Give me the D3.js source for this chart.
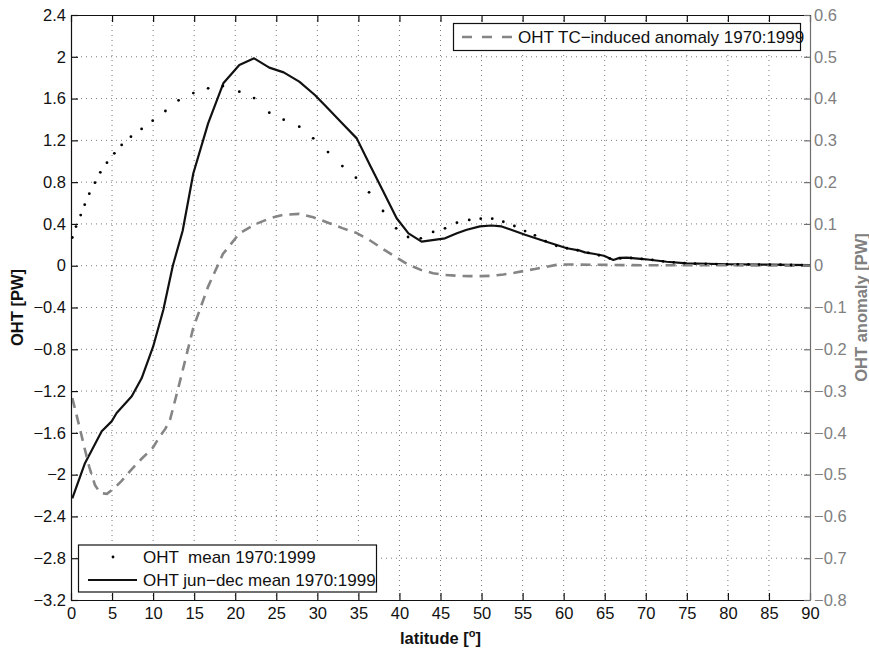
<!DOCTYPE html>
<html><head><meta charset="utf-8">
<script src="https://cdn.jsdelivr.net/npm/d3@7"></script>
<style>
body{margin:0;background:#fff;}
text{font-family:"Liberation Sans",Arial,Helvetica,sans-serif;}
</style></head>
<body>
<svg id="chart" width="869" height="649"></svg>
<script>
// ---------- DATA ----------
const xTicks = [0,5,10,15,20,25,30,35,40,45,50,55,60,65,70,75,80,85,90];
const yLeftTicks = [2.4,2,1.6,1.2,0.8,0.4,0,-0.4,-0.8,-1.2,-1.6,-2,-2.4,-2.8,-3.2];
const yRightTicks = [0.6,0.5,0.4,0.3,0.2,0.1,0,-0.1,-0.2,-0.3,-0.4,-0.5,-0.6,-0.7,-0.8];

// OHT mean 1970:1999 (dots)
const meanLat = [0.16,0.61,1.18,1.67,2.23,2.92,3.57,4.38,5.28,6.17,7.3,8.6,9.95,11.5,13.1,14.9,16.7,18.5,20.5,22.3,24.15,25.9,27.8,29.5,31.3,33.05,34.7,36.3,38.0,39.6,41.05,42.6,44.1,45.55,47.0,48.5,49.9,51.3,52.65,54.0,55.3,56.5,57.8,59.1,60.4,61.7,63.0,64.3,65.6,66.9,68.2,69.5,70.8,72.1,73.4,74.7,76.0,77.3,78.6,79.9,81.2,82.5,83.8,85.1,86.4,87.7,89.0];
const meanVal = [0.27,0.375,0.485,0.584,0.69,0.795,0.894,0.986,1.076,1.156,1.235,1.309,1.388,1.481,1.583,1.653,1.698,1.72,1.666,1.605,1.465,1.398,1.331,1.219,1.088,0.954,0.843,0.703,0.524,0.358,0.275,0.262,0.323,0.358,0.412,0.438,0.450,0.450,0.421,0.38,0.332,0.291,0.235,0.19,0.167,0.148,0.123,0.10,0.07,0.07,0.074,0.065,0.055,0.042,0.032,0.025,0.02,0.018,0.016,0.014,0.013,0.012,0.011,0.01,0.009,0.007,0.006];

// OHT jun-dec mean 1970:1999 (solid)
const jdLat = [0.16,1.7,3.74,4.95,5.56,7.4,8.6,10.0,11.24,12.4,13.6,14.9,16.7,18.55,20.5,22.3,24.15,25.9,27.8,29.7,31.3,33.05,34.8,36.4,38.0,39.66,41.1,42.7,45.55,47.0,48.2,49.8,51.2,52.45,55.3,57.9,60.4,62.0,62.6,63.8,64.9,66.05,66.8,67.7,69.7,72.55,75.0,80,85,90];
const jdVal = [-2.227,-1.89,-1.585,-1.49,-1.41,-1.25,-1.078,-0.775,-0.424,0.0,0.335,0.885,1.363,1.746,1.921,1.985,1.896,1.851,1.762,1.634,1.504,1.361,1.219,0.964,0.715,0.454,0.31,0.23,0.262,0.31,0.344,0.376,0.385,0.376,0.296,0.23,0.167,0.144,0.128,0.112,0.095,0.055,0.075,0.077,0.064,0.038,0.023,0.014,0.01,0.005];

// OHT TC-induced anomaly 1970:1999 (dashed, right axis)
const tcLat = [0.16,0.61,1.18,1.67,2.23,2.92,3.57,4.38,5.28,6.17,7.3,8.6,9.95,10.8,11.5,12.06,13.1,14.9,16.7,18.5,20.5,22.3,24.15,25.9,27.8,29.5,31.3,33.05,34.7,36.3,38.0,39.6,41.05,42.6,44.1,45.55,47.0,48.5,49.9,51.3,52.65,54.0,55.3,56.5,57.8,59.1,60.4,65,70,80,90];
const tcVal = [-0.317,-0.352,-0.398,-0.438,-0.482,-0.525,-0.544,-0.546,-0.532,-0.515,-0.489,-0.462,-0.436,-0.409,-0.39,-0.369,-0.29,-0.148,-0.05,0.028,0.077,0.098,0.113,0.122,0.124,0.116,0.103,0.09,0.079,0.062,0.04,0.02,0.003,-0.01,-0.018,-0.022,-0.024,-0.025,-0.025,-0.024,-0.021,-0.017,-0.012,-0.008,-0.003,0.002,0.003,0.002,0.001,0.001,0];

const legendTop = ["OHT TC\u2212induced anomaly 1970:1999"];
const legendBottom = ["OHT  mean 1970:1999","OHT jun\u2212dec mean 1970:1999"];

// ---------- CHART ----------
const svg = d3.select("#chart");
const L = 71, R = 810, T = 15, B = 600;
const x = d3.scaleLinear().domain([0,90]).range([L,R]);
const yL = d3.scaleLinear().domain([-3.2,2.4]).range([B,T]);
const yR = d3.scaleLinear().domain([-0.8,0.6]).range([B,T]);
const fmt = v => (v<0?"\u2212":"") + String(Math.abs(v));
const grey = "#808080";

// grid
const grid = svg.append("g").attr("stroke","#555").attr("stroke-width",0.8).attr("stroke-dasharray","1,4");
grid.selectAll("line.v").data(xTicks.slice(1,-1)).enter().append("line")
  .attr("x1",d=>x(d)).attr("x2",d=>x(d)).attr("y1",T).attr("y2",B);
grid.selectAll("line.h").data(yLeftTicks.slice(1,-1)).enter().append("line")
  .attr("x1",L).attr("x2",R).attr("y1",d=>yL(d)).attr("y2",d=>yL(d));

// series
const lineJD = d3.line().x((d,i)=>x(jdLat[i])).y(d=>yL(d));
svg.append("path").attr("d",lineJD(jdVal)).attr("fill","none").attr("stroke","#111").attr("stroke-width",2.2).attr("stroke-linejoin","round");
const lineTC = d3.line().x((d,i)=>x(tcLat[i])).y(d=>yR(d));
svg.append("path").attr("d",lineTC(tcVal)).attr("fill","none").attr("stroke","#858585").attr("stroke-width",2.6).attr("stroke-dasharray","10,7");
svg.append("g").selectAll("circle").data(meanVal).enter().append("circle")
  .attr("cx",(d,i)=>x(meanLat[i])).attr("cy",d=>yL(d)).attr("r",1.4).attr("fill","#000");

// axes
const fontSize = "16.5px";
const ax = svg.append("g").attr("transform",`translate(0,${B})`)
  .call(d3.axisBottom(x).tickValues(xTicks).tickSize(-7).tickSizeOuter(0).tickPadding(7).tickFormat(d=>String(d)));
const axT = svg.append("g").attr("transform",`translate(0,${T})`)
  .call(d3.axisTop(x).tickValues(xTicks).tickSize(-7).tickSizeOuter(0).tickFormat(""));
const ayL = svg.append("g").attr("transform",`translate(${L},0)`)
  .call(d3.axisLeft(yL).tickValues(yLeftTicks).tickSize(-7).tickSizeOuter(0).tickPadding(5).tickFormat(fmt));
const ayR = svg.append("g").attr("transform",`translate(${R},0)`)
  .call(d3.axisRight(yR).tickValues(yRightTicks).tickSize(-6).tickSizeOuter(0).tickPadding(4).tickFormat(fmt));
[ax,axT,ayL].forEach(g=>{
  g.selectAll("path,line").attr("stroke","#111").attr("stroke-width",1.2);
  g.selectAll("text").attr("fill","#111").style("font-size",fontSize).attr("font-family",null);
});
ayR.selectAll("path,line").attr("stroke","#6e6e6e").attr("stroke-width",1.2);
ayR.selectAll("text").attr("fill",grey).style("font-size",fontSize).attr("font-family",null);
ax.selectAll("text").attr("dy","0.71em");

// axis titles
const xl = svg.append("text").attr("x",(L+R)/2).attr("y",644).attr("text-anchor","middle")
  .style("font-size","16.5px").style("font-weight","bold").attr("fill","#111");
xl.append("tspan").text("latitude [");
xl.append("tspan").text("o").style("font-size","11px").attr("dy",-7);
xl.append("tspan").text("]").attr("dy",7);
svg.append("text").attr("transform",`translate(23,${(T+B)/2}) rotate(-90)`).attr("text-anchor","middle")
  .style("font-size","16.5px").style("font-weight","bold").attr("fill","#111").text("OHT [PW]");
svg.append("text").attr("transform",`translate(867,${(T+B)/2}) rotate(-90)`).attr("text-anchor","middle")
  .style("font-size","16.5px").style("font-weight","bold").attr("fill",grey).text("OHT anomaly [PW]");

// legend top-right
const lg1 = svg.append("g");
lg1.append("rect").attr("x",453.5).attr("y",23.5).attr("width",347).attr("height",27).attr("fill","#fff").attr("stroke","#111").attr("stroke-width",1.2);
lg1.append("line").attr("x1",462).attr("x2",512).attr("y1",37).attr("y2",37).attr("stroke","#858585").attr("stroke-width",2.6).attr("stroke-dasharray","10,10");
lg1.append("text").attr("x",518).attr("y",43).style("font-size","17px").attr("fill","#111").text(legendTop[0]);

// legend bottom-left
const lg2 = svg.append("g");
lg2.append("rect").attr("x",78.5).attr("y",545).attr("width",298).attr("height",47).attr("fill","#fff").attr("stroke","#111").attr("stroke-width",1.2);
lg2.append("circle").attr("cx",113).attr("cy",557).attr("r",1.4).attr("fill","#000");
lg2.append("line").attr("x1",88).attr("x2",137).attr("y1",580).attr("y2",580).attr("stroke","#111").attr("stroke-width",2.2);
lg2.selectAll("text.l").data(legendBottom).enter().append("text")
  .attr("x",143).attr("y",(d,i)=>563+i*23).style("font-size","17px").style("white-space","pre").attr("fill","#111").text(d=>d);
</script>
</body></html>
